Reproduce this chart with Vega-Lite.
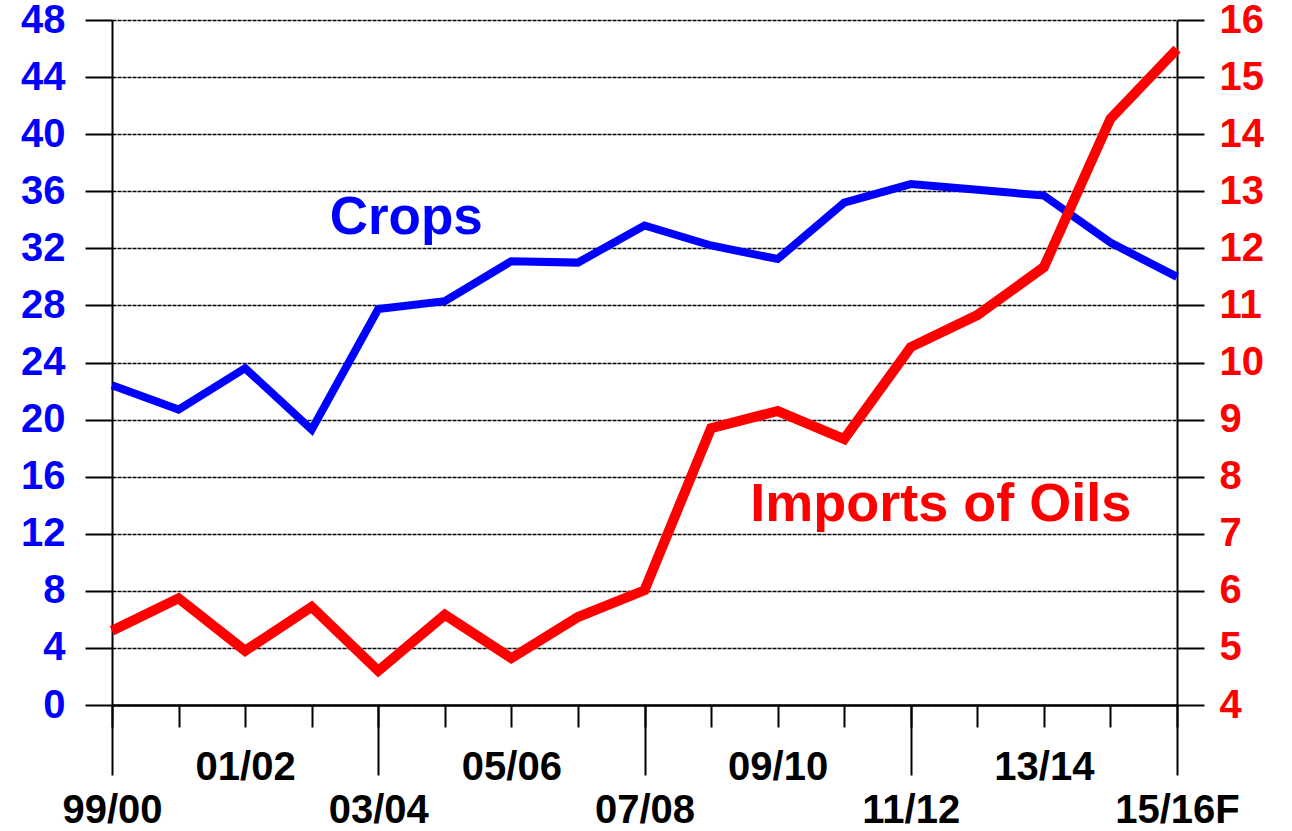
{
  "$schema": "https://vega.github.io/schema/vega-lite/v6.json",
  "width": 1065,
  "height": 685,
  "autosize": {"type": "none"},
  "padding": {"left": 112, "top": 20, "right": 115, "bottom": 126},
  "background": "white",
  "config": {
    "view": {"stroke": null},
    "font": "Liberation Sans",
    "axis": {
      "labelFont": "Liberation Sans",
      "labelFontWeight": "bold",
      "domainColor": "black",
      "domainWidth": 2,
      "tickColor": "black",
      "tickWidth": 2,
      "labelOverlap": false,
      "labelBound": false,
      "labelFlush": false,
      "title": null
    }
  },
  "datasets": {
    "main": [
      {"season": "99/00", "crops": 22.4, "imports": 5.3},
      {"season": "00/01", "crops": 20.7, "imports": 5.87},
      {"season": "01/02", "crops": 23.6, "imports": 4.95},
      {"season": "02/03", "crops": 19.3, "imports": 5.72},
      {"season": "03/04", "crops": 27.75, "imports": 4.6},
      {"season": "04/05", "crops": 28.3, "imports": 5.58},
      {"season": "05/06", "crops": 31.1, "imports": 4.82},
      {"season": "06/07", "crops": 31.0, "imports": 5.54},
      {"season": "07/08", "crops": 33.6, "imports": 6.01},
      {"season": "08/09", "crops": 32.2, "imports": 8.85},
      {"season": "09/10", "crops": 31.25, "imports": 9.15},
      {"season": "10/11", "crops": 35.2, "imports": 8.66},
      {"season": "11/12", "crops": 36.5, "imports": 10.27},
      {"season": "12/13", "crops": 36.1, "imports": 10.83},
      {"season": "13/14", "crops": 35.7, "imports": 11.67},
      {"season": "14/15", "crops": 32.4, "imports": 14.27},
      {"season": "15/16F", "crops": 30.0, "imports": 15.49}
    ]
  },
  "layer": [
    {
      "encoding": {
        "x": {
          "field": "season",
          "type": "ordinal",
          "scale": {"type": "point", "padding": 0, "domain": ["99/00","00/01","01/02","02/03","03/04","04/05","05/06","06/07","07/08","08/09","09/10","10/11","11/12","12/13","13/14","14/15","15/16F"]},
          "axis": {
            "orient": "bottom",
            "labelAngle": 0,
            "tickSize": 22,
            "labelPadding": 20,
            "labelFontSize": 40,
            "labelColor": "black",
            "labelExpr": "indexof(['01/02','05/06','09/10','13/14'], datum.label) >= 0 ? datum.label : ''"
          }
        }
      },
      "layer": [
        {
          "data": {"name": "main"},
          "mark": {"type": "line", "color": "#0000FF", "strokeWidth": 8, "strokeJoin": "miter", "strokeCap": "butt"},
          "encoding": {
            "y": {
              "field": "crops",
              "type": "quantitative",
              "scale": {"domain": [0, 48], "nice": false, "zero": false},
              "axis": {
                "orient": "left",
                "values": [0,4,8,12,16,20,24,28,32,36,40,44,48],
                "format": "d",
                "tickSize": 27,
                "labelPadding": 20,
                "labelFontSize": 40,
                "labelColor": "#0000FF",
                "grid": true,
                "gridColor": "black",
                "gridWidth": 1.5,
                "gridDash": [4, 1]
              }
            }
          }
        },
        {
          "data": {"values": [{"season": "03/04", "v": 34.1, "label": "Crops"}]},
          "mark": {"type": "text", "color": "#0000FF", "fontSize": 53, "fontWeight": "bold", "font": "Liberation Sans", "dx": 28, "align": "center", "baseline": "middle"},
          "encoding": {
            "y": {"field": "v", "type": "quantitative"},
            "text": {"field": "label"}
          }
        }
      ]
    },
    {
      "encoding": {
        "x": {
          "field": "season",
          "type": "ordinal",
          "scale": {"type": "point", "padding": 0, "domain": ["99/00","00/01","01/02","02/03","03/04","04/05","05/06","06/07","07/08","08/09","09/10","10/11","11/12","12/13","13/14","14/15","15/16F"]},
          "axis": {
            "orient": "bottom",
            "labelAngle": 0,
            "values": ["99/00","03/04","07/08","11/12","15/16F"],
            "tickSize": 70,
            "labelPadding": 15,
            "labelFontSize": 40,
            "labelColor": "black"
          }
        }
      },
      "layer": [
        {
          "data": {"name": "main"},
          "mark": {"type": "line", "color": "#FF0000", "strokeWidth": 10, "strokeJoin": "miter", "strokeCap": "butt"},
          "encoding": {
            "y": {
              "field": "imports",
              "type": "quantitative",
              "scale": {"domain": [4, 16], "nice": false, "zero": false},
              "axis": {
                "orient": "right",
                "values": [4,5,6,7,8,9,10,11,12,13,14,15,16],
                "format": "d",
                "tickSize": 27,
                "labelPadding": 15,
                "labelFontSize": 40,
                "labelColor": "#FF0000",
                "grid": false
              }
            }
          }
        },
        {
          "data": {"values": [{"season": "11/12", "v": 7.5, "label": "Imports of Oils"}]},
          "mark": {"type": "text", "color": "#FF0000", "fontSize": 54, "fontWeight": "bold", "font": "Liberation Sans", "dx": 30, "align": "center", "baseline": "middle"},
          "encoding": {
            "y": {"field": "v", "type": "quantitative"},
            "text": {"field": "label"}
          }
        }
      ]
    }
  ],
  "resolve": {"scale": {"y": "independent"}, "axis": {"x": "independent"}}
}
